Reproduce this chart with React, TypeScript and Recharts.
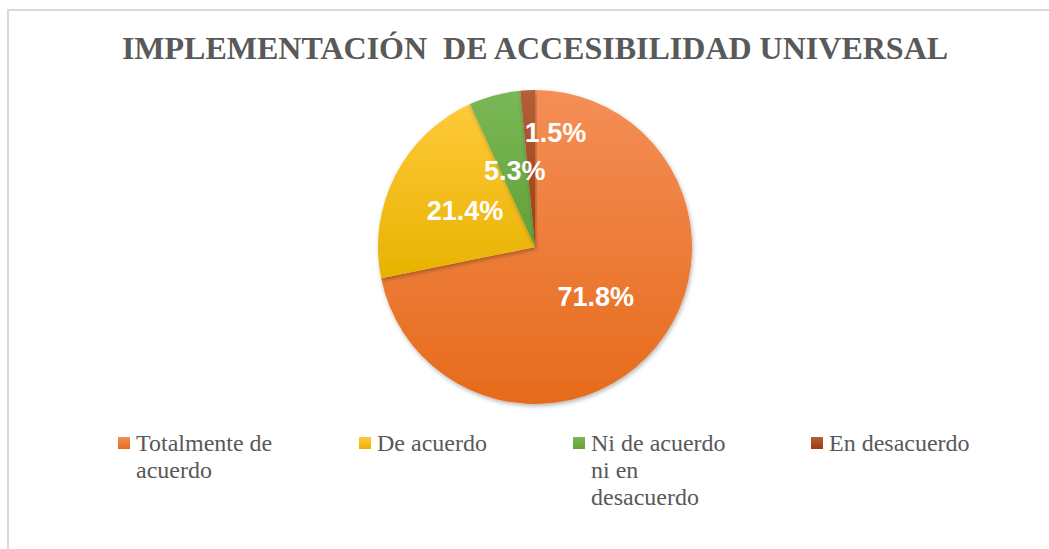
import { PieChart, Pie, Cell, Legend } from "recharts";

const categories = ["Totalmente de acuerdo", "De acuerdo", "Ni de acuerdo ni en desacuerdo", "En desacuerdo"];
const percents = [71.8, 21.4, 5.3, 1.5];
// legend lines as Excel wrapped them
const legendLines = [["Totalmente de", "acuerdo"], ["De acuerdo"], ["Ni de acuerdo", "ni en", "desacuerdo"], ["En desacuerdo"]];

// top -> bottom gradient stops per slice
const gradTop = ["#F48E57", "#FFC93B", "#7AB857", "#B2603A"];
const gradBottom = ["#E66B1B", "#E8B300", "#62A137", "#9C3D0D"];

const data = categories.map((name, i) => ({ name, value: percents[i] }));

const RAD = Math.PI / 180;

const renderLabel = (p: any) => {
  const { cx, cy, midAngle, outerRadius, value, index } = p;
  // the tiny last slice gets pushed outward/right like Excel does
  const r = index === 3 ? outerRadius * 0.73 : outerRadius * 0.5;
  const x = cx + r * Math.cos(-midAngle * RAD) + (index === 3 ? 26 : 0);
  const y = cy + r * Math.sin(-midAngle * RAD);
  return (
    <text x={x} y={y} fill="#fff" textAnchor="middle" dominantBaseline="central"
      style={{ fontFamily: "Liberation Sans, Arial, sans-serif", fontWeight: 700, fontSize: 27 }}>
      {value.toFixed(1)}%
    </text>
  );
};

const legendWidths = [241, 214, 238, 200];

const renderLegend = () => (
  <div style={{ display: "flex", fontFamily: "Liberation Serif, Times New Roman, serif", fontSize: 24, color: "#595959", lineHeight: "27px" }}>
    {legendLines.map((lines, i) => (
      <div key={i} style={{ width: legendWidths[i], display: "flex", alignItems: "flex-start" }}>
        <div style={{ width: 12, height: 12, marginTop: 7, marginRight: 6, background: `linear-gradient(${gradTop[i]}, ${gradBottom[i]})` }} />
        <div>{lines.map((l, j) => <div key={j}>{l}</div>)}</div>
      </div>
    ))}
  </div>
);

export default function App() {
  return (
    <div style={{ position: "fixed", left: 0, top: 0, width: 1049, height: 549, overflow: "hidden", background: "#fff" }}>
      <div style={{ position: "absolute", left: 7, top: 9, width: 1100, height: 600, border: "2px solid #d9d9d9", boxSizing: "border-box" }} />
      <div style={{ position: "absolute", left: 0, top: 30, width: 1070, textAlign: "center", whiteSpace: "pre", fontFamily: "Liberation Serif, Times New Roman, serif", fontWeight: 700, fontSize: 32, color: "#595959" }}>
        {"IMPLEMENTACIÓN  DE ACCESIBILIDAD UNIVERSAL"}
      </div>
      <div style={{ position: "absolute", left: 0, top: 0 }}>
        <PieChart width={1049} height={549} margin={{ top: 0, right: 0, bottom: 0, left: 0 }}>
          <defs>
            {gradTop.map((_, i) => (
              <linearGradient key={i} id={`g${i}`} x1="0" y1="0" x2="0" y2="1">
                <stop offset="0%" stopColor={gradTop[i]} />
                <stop offset="100%" stopColor={gradBottom[i]} />
              </linearGradient>
            ))}
            <filter id="sh" x="-10%" y="-10%" width="120%" height="120%">
              <feDropShadow dx="1" dy="2" stdDeviation="2" floodColor="#000" floodOpacity="0.3" />
            </filter>
          </defs>
          <Pie data={data} dataKey="value" nameKey="name" cx={535} cy={247} outerRadius={157}
            startAngle={90} endAngle={-270} stroke="none" label={renderLabel} labelLine={false}
            isAnimationActive={false} style={{ filter: "url(#sh)" }}>
            {data.map((d, i) => <Cell key={d.name} fill={`url(#g${i})`} />)}
          </Pie>
          <Legend content={renderLegend} wrapperStyle={{ position: "absolute", left: 118, top: 430, width: 900 }} />
        </PieChart>
      </div>
    </div>
  );
}
